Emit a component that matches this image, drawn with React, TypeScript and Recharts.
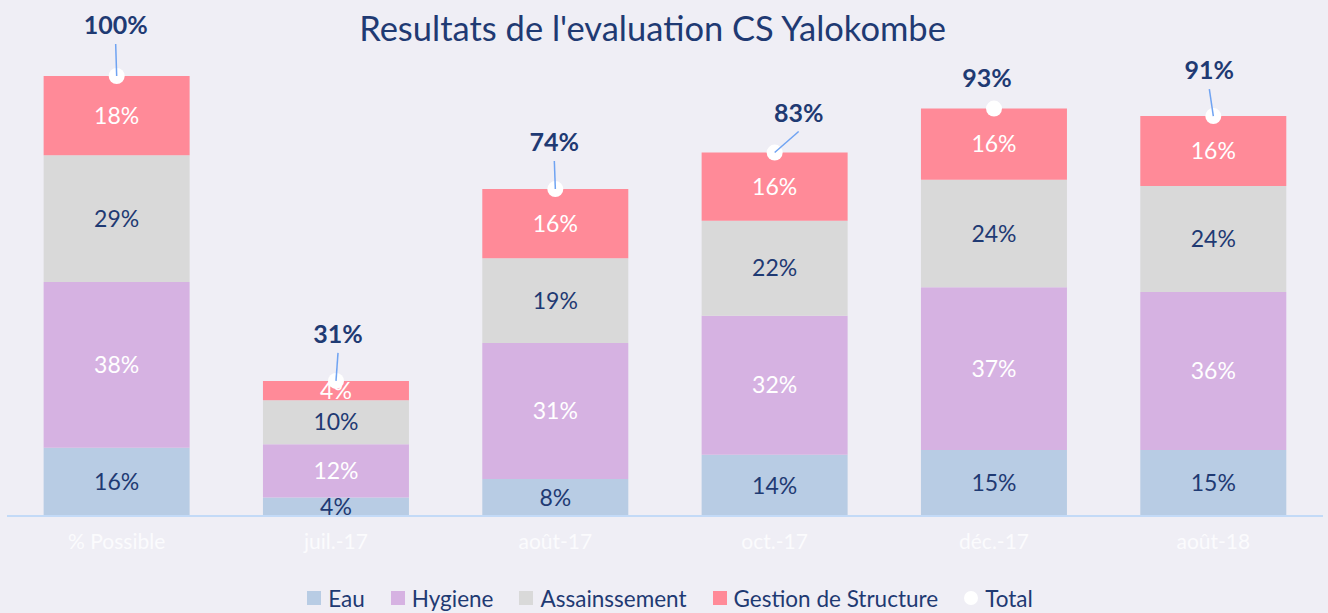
import React from "react";
import {
  ComposedChart,
  Bar,
  Line,
  XAxis,
  YAxis,
  Legend,
  LabelList,
} from "recharts";

const categories = ["% Possible", "juil.-17", "août-17", "oct.-17", "déc.-17", "août-18"];
const eau = [15.5, 4.2, 8.4, 13.9, 15.0, 15.0];
const hygiene = [37.7, 12.1, 30.9, 31.6, 37.0, 35.9];
const assainissement = [28.8, 10.0, 19.3, 21.6, 24.4, 24.1];
const gestion = [18.0, 4.4, 15.7, 15.5, 16.2, 15.9];
const total = [100, 30.7, 74.3, 82.6, 92.6, 90.9];

// where each total label sits relative to its dot
const totalLabelPos = [
  { dx: -1, dy: -52, lead: true },
  { dx: 2, dy: -48, lead: true },
  { dx: -1, dy: -48, lead: true },
  { dx: 24, dy: -41, lead: true },
  { dx: -7, dy: -32, lead: false },
  { dx: -4, dy: -47, lead: true },
];

const data = categories.map((name, i) => ({
  name,
  eau: eau[i],
  hygiene: hygiene[i],
  assainissement: assainissement[i],
  gestion: gestion[i],
  total: total[i],
}));

const FONT = "Lato, 'Open Sans', sans-serif";
const NAVY = "#1F3A73";
const BG = "#EFEEF5";

const pct = (v: any) => `${Math.round(Number(v))}%`;

const TotalLabel = (props: any) => {
  const { x, y, index, value } = props;
  const p = totalLabelPos[index];
  const lx = x + p.dx;
  const ly = y + p.dy;
  return (
    <g>
      {p.lead && (
        <line x1={lx} y1={ly + 20} x2={x} y2={y} stroke="#6FA3F2" strokeWidth={1.5} />
      )}
      <text
        x={lx}
        y={ly}
        textAnchor="middle"
        dominantBaseline="central"
        fill={NAVY}
        fontFamily={FONT}
        fontWeight={700}
        fontSize={25}
      >
        {pct(value)}
      </text>
    </g>
  );
};

const legendItems = [
  { label: "Eau", color: "#B8CCE4", shape: "square" },
  { label: "Hygiene", color: "#D6B2E2", shape: "square" },
  { label: "Assainssement", color: "#D9D9D9", shape: "square" },
  { label: "Gestion de Structure", color: "#FF8A98", shape: "square" },
  { label: "Total", color: "#FFFFFF", shape: "circle" },
];

const LegendContent = () => (
  <div
    style={{
      height: 30,
      display: "flex",
      justifyContent: "center",
      alignItems: "center",
      fontFamily: FONT,
      fontSize: 22.5,
      color: NAVY,
      paddingLeft: 10,
    }}
  >
    {legendItems.map((it) => (
      <div key={it.label} style={{ display: "flex", alignItems: "center", margin: "0 13px" }}>
        <span
          style={{
            width: 14,
            height: 14,
            background: it.color,
            borderRadius: it.shape === "circle" ? "50%" : 0,
            marginRight: 7,
            display: "inline-block",
          }}
        />
        <span>{it.label}</span>
      </div>
    ))}
  </div>
);

export default function App() {
  return (
    <div
      style={{
        position: "absolute",
        left: 0,
        top: 0,
        width: 1328,
        height: 613,
        background: BG,
      }}
    >
      <div
        style={{
          position: "absolute",
          left: 0,
          width: 1305,
          top: 7,
          textAlign: "center",
          fontFamily: FONT,
          fontSize: 34.5,
          color: NAVY,
          lineHeight: "42px",
        }}
      >
        Resultats de l'evaluation CS Yalokombe
      </div>
      <ComposedChart
        width={1328}
        height={613}
        data={data}
        margin={{ top: 76, right: 5, left: 7, bottom: 0 }}
        barCategoryGap="16.7%"
      >
        <XAxis
          dataKey="name"
          height={67}
          tickLine={false}
          axisLine={{ stroke: "#C3DAF7", strokeWidth: 2 }}
          tick={{ fill: "#FBFBFD", fontSize: 21, fontFamily: FONT }}
          dy={10}
        />
        <YAxis hide domain={[0, 100]} />
        <Legend content={<LegendContent />} verticalAlign="bottom" />
        <Bar dataKey="eau" stackId="a" fill="#B8CCE4" isAnimationActive={false}>
          <LabelList dataKey="eau" position="center" formatter={pct} fill={NAVY} fontSize={23} fontFamily={FONT} />
        </Bar>
        <Bar dataKey="hygiene" stackId="a" fill="#D6B2E2" isAnimationActive={false}>
          <LabelList dataKey="hygiene" position="center" formatter={pct} fill="#FFFFFF" fontSize={23} fontFamily={FONT} />
        </Bar>
        <Bar dataKey="assainissement" stackId="a" fill="#D9D9D9" isAnimationActive={false}>
          <LabelList dataKey="assainissement" position="center" formatter={pct} fill={NAVY} fontSize={23} fontFamily={FONT} />
        </Bar>
        <Bar dataKey="gestion" stackId="a" fill="#FF8A98" isAnimationActive={false}>
          <LabelList dataKey="gestion" position="center" formatter={pct} fill="#FFFFFF" fontSize={23} fontFamily={FONT} />
        </Bar>
        <Line
          dataKey="total"
          stroke="none"
          dot={{ r: 8, fill: "#FFFFFF", stroke: "none" }}
          activeDot={false}
          isAnimationActive={false}
        >
          <LabelList dataKey="total" content={<TotalLabel />} />
        </Line>
      </ComposedChart>
    </div>
  );
}
